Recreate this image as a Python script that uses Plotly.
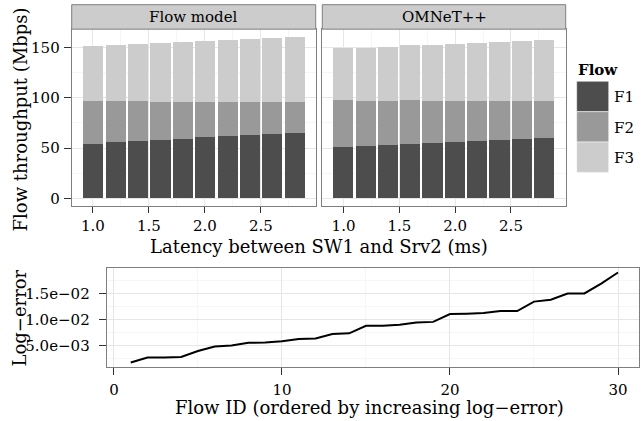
import plotly.graph_objects as go

# ---------------- data ----------------
latency = [1.0, 1.2, 1.4, 1.6, 1.8, 2.0, 2.2, 2.4, 2.6, 2.8]
flows = ["F1", "F2", "F3"]
panels = ["Flow model", "OMNeT++"]

model_f1 = [53.9, 55.9, 56.9, 57.9, 58.9, 60.9, 61.8, 62.8, 63.8, 64.8]
model_f2 = [42.5, 40.5, 39.5, 37.5, 36.5, 34.5, 33.6, 32.6, 31.6, 30.6]
model_f3 = [55.2, 56.2, 57.2, 59.2, 60.2, 61.2, 62.2, 63.2, 64.1, 65.1]

omnet_f1 = [51.3, 52.3, 53.3, 54.3, 55.3, 56.3, 57.2, 58.2, 59.2, 60.2]
omnet_f2 = [46.4, 44.4, 43.4, 43.4, 41.4, 40.4, 39.5, 38.5, 37.5, 36.5]
omnet_f3 = [51.3, 52.3, 53.3, 54.3, 55.3, 56.3, 57.3, 58.2, 59.2, 60.2]

flow_id = list(range(1, 31))
log_error = [0.00171, 0.00266, 0.00266, 0.00278, 0.00392, 0.00481, 0.00500, 0.00551,
             0.00557, 0.00582, 0.00627, 0.00633, 0.00722, 0.00734, 0.00880, 0.00880,
             0.00899, 0.00943, 0.00956, 0.01108, 0.01114, 0.01127, 0.01165, 0.01165,
             0.01348, 0.01386, 0.01506, 0.01506, 0.01696, 0.01911]

top_ticks = [0, 50, 100, 150]
lat_ticks = [1.0, 1.5, 2.0, 2.5]
lat_ticklabels = ["1.0", "1.5", "2.0", "2.5"]
err_ticks = [0.005, 0.010, 0.015]
err_ticklabels = ["5.0e\u221203", "1.0e\u221202", "1.5e\u221202"]
id_ticks = [0, 10, 20, 30]

# ---------------- style ----------------
W, H = 642, 421
FONT = "DejaVu Serif"
colors = {"F1": "#4d4d4d", "F2": "#999999", "F3": "#cccccc"}
border = "#7f7f7f"
grid_major = "#e6e6e6"
grid_minor = "#f6f6f6"


def px(x):
    return x / W


def py(y):
    return 1 - y / H


fig = go.Figure()

series = [[model_f1, model_f2, model_f3], [omnet_f1, omnet_f2, omnet_f3]]
for pi, vals in enumerate(series):
    for fi, name in enumerate(flows):
        fig.add_trace(go.Bar(
            x=latency, y=vals[fi], name=name, width=0.18,
            marker=dict(color=colors[name], line=dict(width=0)),
            xaxis="x" if pi == 0 else "x2", yaxis="y" if pi == 0 else "y2",
            showlegend=False, hoverinfo="x+y+name",
        ))

fig.add_trace(go.Scatter(
    x=flow_id, y=log_error, mode="lines",
    line=dict(color="black", width=2),
    xaxis="x3", yaxis="y3", showlegend=False,
))

tickfont = dict(family=FONT, size=15, color="black")

common = dict(
    showline=True, mirror=True, linecolor=border, linewidth=1,
    ticks="outside", tickwidth=1, tickcolor="#333333",
    showgrid=True, gridcolor=grid_major, gridwidth=1, zeroline=False,
    tickfont=tickfont,
)

top_ydom = [py(207), py(29.3)]
xr = [0.81, 2.99]
yr = [-7.6, 168.2]

fig.update_layout(
    width=W, height=H,
    margin=dict(l=0, r=0, t=0, b=0),
    paper_bgcolor="white", plot_bgcolor="white",
    barmode="stack", bargap=0,
    font=dict(family=FONT, color="black"),
    xaxis=dict(domain=[px(71.7), px(315.7)], range=xr, anchor="y", ticklen=6,
               tickvals=lat_ticks, ticktext=lat_ticklabels, ticklabelstandoff=0,
               minor=dict(dtick=0.25, tick0=0.75, showgrid=True, gridcolor=grid_minor, ticks=""),
               **common),
    yaxis=dict(domain=top_ydom, range=yr, anchor="x", tickvals=top_ticks, ticklen=7,
               ticklabelstandoff=1,
               minor=dict(dtick=25, tick0=0, showgrid=True, gridcolor=grid_minor, ticks=""),
               **common),
    xaxis2=dict(domain=[px(322.3), px(565.7)], range=xr, anchor="y2", ticklen=6,
                tickvals=lat_ticks, ticktext=lat_ticklabels, ticklabelstandoff=0,
                minor=dict(dtick=0.25, tick0=0.75, showgrid=True, gridcolor=grid_minor, ticks=""),
                **common),
    yaxis2=dict(domain=top_ydom, range=yr, anchor="x2", tickvals=top_ticks,
                showticklabels=False, ticklen=0,
                minor=dict(dtick=25, tick0=0, showgrid=True, gridcolor=grid_minor, ticks=""),
                **{k: v for k, v in common.items() if k not in ("ticks",)}, ticks=""),
    xaxis3=dict(domain=[px(106.7), px(639)], range=[-0.43, 31.25], anchor="y3", ticklen=7,
                tickvals=id_ticks, ticklabelstandoff=2,
                minor=dict(dtick=5, tick0=5, showgrid=True, gridcolor=grid_minor, ticks=""),
                **common),
    yaxis3=dict(domain=[py(368.5), py(269.7)], range=[0.00088, 0.0199], anchor="x3", ticklen=7,
                tickvals=err_ticks, ticktext=err_ticklabels, ticklabelstandoff=6,
                minor=dict(dtick=0.0025, tick0=0.0025, showgrid=True, gridcolor=grid_minor, ticks=""),
                **common),
)

shapes = []
annotations = []

# facet strips
for x0, x1, label in [(71.7, 315.7, panels[0]), (322.3, 565.7, panels[1])]:
    shapes.append(dict(type="rect", xref="paper", yref="paper",
                       x0=px(x0), x1=px(x1), y0=py(29.3), y1=py(4.7),
                       fillcolor="#cccccc", line=dict(color=border, width=1)))
    annotations.append(dict(xref="paper", yref="paper", x=px((x0 + x1) / 2), y=py(17),
                            text=label, showarrow=False, xanchor="center", yanchor="middle",
                            font=dict(family=FONT, size=15, color="black")))

# axis titles
title_font = dict(family=FONT, size=18, color="black")
annotations += [
    dict(xref="paper", yref="paper", x=px(318.7), y=py(248), text="Latency between SW1 and Srv2 (ms)",
         showarrow=False, xanchor="center", yanchor="middle", font=title_font),
    dict(xref="paper", yref="paper", x=px(20), y=py(120), text="Flow throughput (Mbps)",
         showarrow=False, xanchor="center", yanchor="middle", textangle=-90, font=title_font),
    dict(xref="paper", yref="paper", x=px(370), y=py(409.5),
         text="Flow ID (ordered by increasing log\u2212error)",
         showarrow=False, xanchor="center", yanchor="middle", font=title_font),
    dict(xref="paper", yref="paper", x=px(19), y=py(320), text="Log\u2212error",
         showarrow=False, xanchor="center", yanchor="middle", textangle=-90, font=title_font),
]

# legend (drawn manually to match ggplot key sizes)
annotations.append(dict(xref="paper", yref="paper", x=px(576), y=py(70), text="<b>Flow</b>",
                        showarrow=False, xanchor="left", yanchor="middle",
                        font=dict(family=FONT, size=15, color="black")))
key_top = 81.7
key_h = 30.5
for i, name in enumerate(flows):
    y0 = key_top + i * key_h
    shapes.append(dict(type="rect", xref="paper", yref="paper",
                       x0=px(576.7), x1=px(608.7), y0=py(y0 + key_h), y1=py(y0),
                       fillcolor=colors[name], line=dict(color="white", width=0.5)))
    annotations.append(dict(xref="paper", yref="paper", x=px(611.5), y=py(y0 + key_h / 2 + 1),
                            text=name, showarrow=False, xanchor="left", yanchor="middle",
                            font=dict(family=FONT, size=15, color="black")))

fig.update_layout(shapes=shapes, annotations=annotations)

fig.write_html("out.html", config={"displayModeBar": False},
               post_script="document.body.style.margin='0';document.body.style.overflow='hidden';")
